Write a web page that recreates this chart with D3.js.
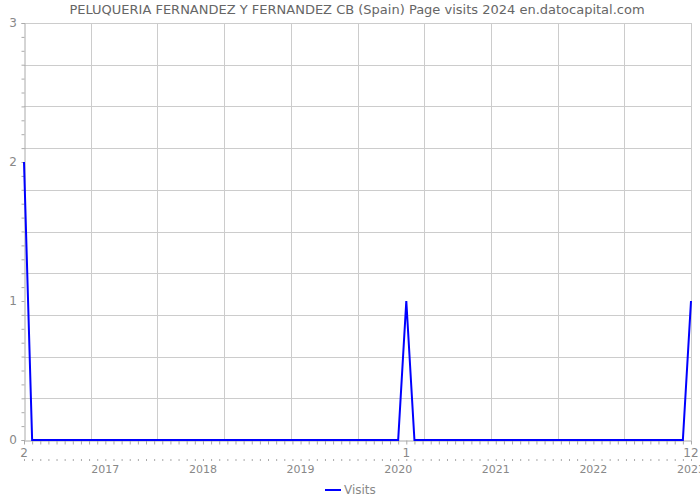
<!DOCTYPE html>
<html><head><meta charset="utf-8">
<script src="https://cdn.jsdelivr.net/npm/d3@7"></script>
<style>body{margin:0;background:#fff}svg{display:block;font-family:"DejaVu Sans",sans-serif}</style>
</head><body><svg id="c" width="700" height="500"></svg>
<script>
const title = "PELUQUERIA FERNANDEZ Y FERNANDEZ CB (Spain) Page visits 2024 en.datocapital.com";
// Monthly visits, Feb 2016 .. Dec 2022
const months = [];
for (let y = 2016; y <= 2022; y++) for (let m = 1; m <= 12; m++) if (!(y === 2016 && m === 1)) months.push({y, m});
const visits = months.map(d => (d.y === 2016 && d.m === 2) ? 2 : (d.y === 2020 && d.m === 1) ? 1 : (d.y === 2022 && d.m === 12) ? 1 : 0);
const monthLabels = [{i: 0, t: "2"}, {i: 47, t: "1"}, {i: 82, t: "12"}];
const yearLabels = ["2017","2018","2019","2020","2021","2022","2023"];
const yearIdx = [10, 22, 34, 46, 58, 70, 82];
const yTicks = [0, 1, 2, 3];
const seriesName = "Visits";

const svg = d3.select("#c");
const L = 24, R = 691, T = 23, B = 440;
const x = d3.scaleLinear().domain([0, visits.length - 1]).range([L, R]);
const y = d3.scaleLinear().domain([0, 3]).range([B, T]);
const gx = d3.scaleLinear().domain([0, 10]).range([L, R]);
const gy = d3.scaleLinear().domain([0, 10]).range([B, T]);

// grid
svg.append("g").selectAll("line").data(d3.range(1, 11)).join("line")
  .attr("x1", d => Math.round(gx(d)) + 0.5).attr("x2", d => Math.round(gx(d)) + 0.5)
  .attr("y1", T).attr("y2", B).attr("stroke", "#cccccc").attr("stroke-width", 1);
svg.append("g").selectAll("line").data(d3.range(1, 11)).join("line")
  .attr("y1", d => Math.round(gy(d)) + 0.5).attr("y2", d => Math.round(gy(d)) + 0.5)
  .attr("x1", L).attr("x2", R).attr("stroke", "#cccccc").attr("stroke-width", 1);

// y axis
const yAxis = svg.append("g").attr("transform", `translate(${L + 0.5},0)`)
  .call(d3.axisLeft(y).tickValues(d3.range(0, 31).map(d => d / 10)).tickSize(3).tickFormat(""));
yAxis.select(".domain").attr("stroke", "#aaaaaa");
yAxis.selectAll(".tick line").attr("stroke", "#aaaaaa");
svg.append("g").selectAll("text").data(yTicks).join("text")
  .attr("x", 17).attr("y", d => y(d) + 4).attr("text-anchor", "end")
  .attr("font-size", 12).attr("fill", "#888").text(d => d);

// x axis
const xAxis = svg.append("g").attr("transform", `translate(0,${B + 0.5})`)
  .call(d3.axisBottom(x).tickValues(d3.range(0, visits.length)).tickSize(4).tickSizeOuter(0).tickFormat(""));
xAxis.select(".domain").attr("stroke", "#aaaaaa");
xAxis.selectAll(".tick line").attr("stroke", "#aaaaaa");
const xAxis2 = svg.append("g").attr("transform", `translate(0,${459})`)
  .call(d3.axisBottom(x).tickValues(d3.range(0, visits.length)).tickSize(2).tickSizeOuter(0).tickFormat(""));
xAxis2.select(".domain").remove();
xAxis2.selectAll(".tick line").attr("stroke", "#aaaaaa");
svg.append("g").selectAll("text").data(monthLabels).join("text")
  .attr("x", d => x(d.i)).attr("y", 457).attr("text-anchor", "middle")
  .attr("font-size", 12).attr("fill", "#888").text(d => d.t);
svg.append("g").selectAll("text").data(yearLabels).join("text")
  .attr("x", (d, i) => x(yearIdx[i])).attr("y", 473).attr("text-anchor", "middle")
  .attr("font-size", 11).attr("fill", "#888").text(d => d);

// line
svg.append("path").datum(visits)
  .attr("d", d3.line().x((d, i) => x(i)).y(d => y(d)))
  .attr("fill", "none").attr("stroke", "#0000ff").attr("stroke-width", 2);

// title
svg.append("text").attr("x", 357).attr("y", 14).attr("text-anchor", "middle")
  .attr("font-size", 13).attr("fill", "#666").text(title);

// legend
svg.append("line").attr("x1", 325).attr("x2", 341).attr("y1", 490).attr("y2", 490)
  .attr("stroke", "#0000ff").attr("stroke-width", 2);
svg.append("text").attr("x", 344).attr("y", 494).attr("font-size", 12).attr("fill", "#888").text(seriesName);
</script></body></html>
